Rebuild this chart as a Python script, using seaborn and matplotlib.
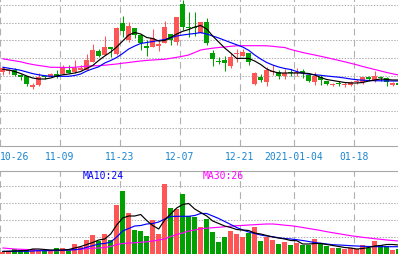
import numpy as np
import pandas as pd
import matplotlib
matplotlib.use("Agg")
import matplotlib.pyplot as plt
import matplotlib.transforms as mtransforms
import seaborn as sns

# ---------------- data ----------------
first_day = "2020-10-26"
last_day = "2021-01-27"
holidays = ["2021-01-01"]

opens = [
    4.270, 4.282, 4.290, 4.230, 4.230, 4.125, 4.140, 4.225, 4.220, 4.247,
    4.250, 4.290, 4.267, 4.290, 4.290, 4.370, 4.480, 4.440, 4.510, 4.450,
    4.760, 4.593, 4.710, 4.643, 4.533, 4.517, 4.533, 4.557, 4.650, 4.567,
    4.950, 4.720, 4.720, 4.657, 4.767, 4.460, 4.380, 4.390, 4.333, 4.447,
    4.433, 4.457, 4.150, 4.223, 4.173, 4.270, 4.267, 4.227, 4.262, 4.257,
    4.283, 4.240, 4.167, 4.223, 4.183, 4.137, 4.152, 4.137, 4.143, 4.170,
    4.167, 4.210, 4.190, 4.212, 4.207, 4.145, 4.150]
highs = [
    4.320, 4.300, 4.310, 4.250, 4.230, 4.160, 4.260, 4.240, 4.260, 4.290,
    4.340, 4.340, 4.387, 4.340, 4.450, 4.550, 4.500, 4.630, 4.523, 4.720,
    4.827, 4.767, 4.710, 4.643, 4.593, 4.700, 4.593, 4.783, 4.650, 4.817,
    4.993, 4.873, 4.867, 4.767, 4.810, 4.493, 4.417, 4.427, 4.460, 4.500,
    4.500, 4.457, 4.273, 4.250, 4.317, 4.343, 4.290, 4.300, 4.300, 4.307,
    4.300, 4.240, 4.267, 4.240, 4.183, 4.160, 4.183, 4.167, 4.183, 4.200,
    4.217, 4.227, 4.283, 4.227, 4.217, 4.173, 4.170]
lows = [
    4.240, 4.250, 4.230, 4.190, 4.130, 4.100, 4.130, 4.200, 4.220, 4.210,
    4.250, 4.260, 4.260, 4.290, 4.290, 4.370, 4.420, 4.440, 4.417, 4.440,
    4.617, 4.570, 4.610, 4.493, 4.433, 4.517, 4.477, 4.557, 4.540, 4.540,
    4.690, 4.617, 4.627, 4.657, 4.540, 4.333, 4.350, 4.283, 4.307, 4.367,
    4.433, 4.340, 4.140, 4.167, 4.133, 4.240, 4.200, 4.200, 4.227, 4.233,
    4.207, 4.167, 4.140, 4.140, 4.140, 4.127, 4.127, 4.117, 4.127, 4.150,
    4.150, 4.183, 4.173, 4.183, 4.133, 4.127, 4.130]
closes = [
    4.310, 4.287, 4.240, 4.225, 4.150, 4.130, 4.220, 4.220, 4.250, 4.220,
    4.310, 4.260, 4.310, 4.310, 4.390, 4.490, 4.430, 4.523, 4.505, 4.710,
    4.677, 4.727, 4.640, 4.560, 4.507, 4.607, 4.550, 4.723, 4.593, 4.817,
    4.723, 4.713, 4.713, 4.767, 4.557, 4.400, 4.373, 4.357, 4.423, 4.452,
    4.473, 4.367, 4.260, 4.190, 4.293, 4.275, 4.227, 4.260, 4.257, 4.262,
    4.260, 4.183, 4.227, 4.190, 4.150, 4.142, 4.147, 4.142, 4.167, 4.175,
    4.217, 4.205, 4.227, 4.207, 4.173, 4.150, 4.145]

ma5 = [
    4.297, 4.290, 4.275, 4.255, 4.230, 4.210, 4.200, 4.200, 4.210, 4.230,
    4.242, 4.250, 4.260, 4.275, 4.305, 4.335, 4.385, 4.430, 4.470, 4.520,
    4.580, 4.640, 4.665, 4.650, 4.615, 4.605, 4.580, 4.585, 4.615, 4.650,
    4.677, 4.695, 4.720, 4.735, 4.700, 4.630, 4.570, 4.510, 4.460, 4.405,
    4.407, 4.405, 4.380, 4.345, 4.300, 4.275, 4.260, 4.260, 4.260, 4.260,
    4.260, 4.255, 4.240, 4.215, 4.195, 4.185, 4.175, 4.165, 4.160, 4.160,
    4.165, 4.180, 4.190, 4.200, 4.195, 4.190, 4.190]
ma10 = [
    4.318, 4.308, 4.298, 4.287, 4.270, 4.254, 4.242, 4.233, 4.227, 4.227,
    4.227, 4.227, 4.235, 4.250, 4.280, 4.302, 4.322, 4.360, 4.385, 4.415,
    4.455, 4.500, 4.530, 4.555, 4.565, 4.575, 4.585, 4.595, 4.613, 4.630,
    4.640, 4.648, 4.655, 4.664, 4.650, 4.630, 4.610, 4.587, 4.564, 4.542,
    4.520, 4.487, 4.440, 4.400, 4.365, 4.340, 4.320, 4.305, 4.295, 4.275,
    4.257, 4.248, 4.243, 4.237, 4.230, 4.224, 4.218, 4.210, 4.200, 4.193,
    4.188, 4.185, 4.183, 4.182, 4.181, 4.180, 4.180]
ma30 = [
    4.402, 4.392, 4.382, 4.372, 4.357, 4.345, 4.335, 4.327, 4.317, 4.317,
    4.315, 4.315, 4.317, 4.323, 4.328, 4.332, 4.333, 4.338, 4.344, 4.350,
    4.358, 4.365, 4.373, 4.380, 4.386, 4.390, 4.394, 4.398, 4.407, 4.417,
    4.428, 4.440, 4.465, 4.490, 4.500, 4.508, 4.515, 4.520, 4.527, 4.532,
    4.533, 4.533, 4.533, 4.533, 4.532, 4.527, 4.520, 4.515, 4.495, 4.480,
    4.465, 4.452, 4.440, 4.427, 4.414, 4.400, 4.386, 4.372, 4.357, 4.342,
    4.325, 4.310, 4.295, 4.280, 4.265, 4.252, 4.240]

volumes = [
    2.3, 2.3, 4.7, 4.0, 4.0, 4.7, 4.0, 2.7, 3.3, 6.0,
    6.0, 4.0, 10.0, 7.3, 14.0, 19.0, 13.5, 20.0, 14.0, 49.0,
    63.3, 41.0, 24.0, 22.7, 18.3, 34.3, 20.0, 70.0, 46.0, 45.0,
    60.0, 37.7, 37.3, 27.0, 35.0, 22.3, 12.3, 17.3, 22.7, 20.0,
    16.7, 21.0, 27.3, 13.3, 17.3, 14.0, 10.5, 11.7, 9.2, 10.7,
    9.5, 9.5, 15.0, 11.0, 8.0, 6.0, 6.0, 5.0, 6.0, 5.0,
    9.0, 6.0, 13.3, 9.0, 8.3, 4.0, 5.0]
vol_ma5 = [
    2.5, 2.7, 3.0, 3.3, 3.5, 5.0, 5.0, 4.5, 4.0, 4.0,
    4.0, 4.5, 6.0, 7.5, 9.5, 11.5, 14.0, 15.0, 20.0, 29.0,
    36.0, 38.0, 38.0, 39.5, 33.5, 28.5, 25.0, 34.0, 40.0, 46.0,
    49.5, 50.5, 45.0, 41.5, 38.0, 33.0, 30.5, 28.0, 26.5, 24.5,
    24.0, 23.5, 21.0, 20.0, 18.5, 17.0, 16.0, 15.0, 13.5, 13.3,
    10.0, 10.0, 10.5, 10.5, 9.5, 8.5, 7.5, 6.5, 6.0, 5.0,
    5.5, 6.5, 8.0, 8.5, 9.5, 9.5, 9.0]
vol_ma10 = [
    2.7, 2.7, 2.7, 2.7, 2.7, 3.0, 3.3, 3.3, 3.5, 3.7,
    3.7, 4.0, 4.3, 5.0, 6.7, 8.3, 10.0, 10.5, 12.0, 17.0,
    23.0, 25.5, 28.0, 28.5, 30.0, 30.5, 32.0, 35.0, 37.5, 37.7,
    37.7, 37.7, 38.5, 40.5, 40.5, 38.0, 35.5, 32.5, 29.5, 26.5,
    24.0, 22.0, 20.5, 19.0, 18.0, 17.3, 16.2, 15.5, 15.0, 14.3,
    13.5, 12.5, 11.5, 10.8, 10.0, 9.3, 9.0, 8.7, 8.3, 8.0,
    7.7, 7.5, 7.4, 7.3, 7.3, 7.3, 7.3]
vol_ma30 = [
    6.0, 5.5, 5.0, 4.7, 4.5, 4.0, 3.7, 3.5, 3.3, 3.3,
    3.5, 4.0, 4.3, 4.7, 5.3, 5.7, 6.0, 6.5, 7.5, 9.5,
    10.5, 11.0, 11.2, 11.7, 12.2, 13.0, 14.0, 15.0, 17.5, 19.5,
    21.0, 23.0, 24.0, 25.3, 25.8, 26.3, 26.7, 27.3, 27.8, 28.3,
    28.6, 29.0, 29.3, 29.7, 30.0, 30.0, 29.5, 28.8, 28.3, 27.5,
    26.5, 25.5, 24.5, 23.5, 22.3, 21.3, 20.3, 19.3, 18.3, 17.5,
    16.7, 16.0, 15.3, 14.7, 14.0, 13.5, 13.0]

tick_dates = ["2020-10-26", "2020-11-09", "2020-11-23", "2020-12-07",
              "2020-12-21", "2021-01-04", "2021-01-18"]
tick_labels = ["10-26", "11-09", "11-23", "12-07", "12-21", "2021-01-04", "01-18"]
legend_texts = ["MA10:24", "MA30:26"]

# ---------------- style ----------------
sns.set_theme(style="white")
plt.rcParams["font.family"] = ["DejaVu Sans Mono", "DejaVu Sans"]

RED = "#ff5555"
GREEN = "#00a000"
GRID = "#b0b0b0"
C_MA5, C_MA10, C_MA30 = "#000000", "#0000ff", "#ff00ff"
DATE_COLOR = "#1a86d0"

W, H, DPI = 398, 255, 100
fig = plt.figure(figsize=(W / DPI, H / DPI), dpi=DPI)
fig.patch.set_facecolor("white")


def fy(px):
    return 1 - px / H


ax_p = fig.add_axes([0, fy(147), 1, 147 / H])
ax_v = fig.add_axes([0, fy(255), 1, 83 / H])

trade_days = pd.bdate_range(first_day, last_day, freq="C", holidays=holidays)
day_index = {d.strftime("%Y-%m-%d"): i for i, d in enumerate(trade_days)}
n = len(opens)
xs = np.arange(n) + 0.45

o = np.array(opens)
c = np.array(closes)
up = c >= o
colors = np.where(up, RED, GREEN)

tick_pos = [day_index[d] for d in tick_dates]

for ax in (ax_p, ax_v):
    ax.set_facecolor("white")
    ax.set_xlim(0, W / 6)
    ax.set_xticks(tick_pos)
    ax.xaxis.grid(True, color=GRID, lw=0.8, ls=(0, (6, 4)))
    ax.yaxis.grid(True, color=GRID, lw=0.75, ls=(0, (1.4, 1.4)))
    ax.set_axisbelow(True)
    ax.tick_params(length=0, labelbottom=False, labelleft=False)
    for s in ax.spines.values():
        s.set_visible(False)

# price panel
ax_p.set_ylim(3.53, 5.0)
ax_p.set_yticks(3.53 + 0.176 * np.arange(1, 9))
ax_p.spines["bottom"].set_visible(True)
ax_p.spines["bottom"].set_color("#a8a8a8")
ax_p.spines["bottom"].set_linewidth(0.8)

ax_p.vlines(xs, lows, highs, colors=colors, lw=0.75, zorder=3)
body_h = np.maximum(np.abs(c - o), 0.011)
ax_p.bar(xs, body_h, bottom=np.minimum(o, c), width=0.8, color=colors,
         linewidth=0, zorder=3)

for vals, col in ((ma30, C_MA30), (ma10, C_MA10), (ma5, C_MA5)):
    sns.lineplot(x=xs, y=vals, ax=ax_p, color=col, lw=0.85, zorder=4,
                 legend=False)
ax_p.set_xlabel("")
ax_p.set_ylabel("")

# volume panel
ax_v.set_ylim(0, 83)
ax_v.set_yticks(16.9 * np.arange(1, 5))
ax_v.spines["top"].set_visible(True)
ax_v.spines["top"].set_color("#a8a8a8")
ax_v.spines["top"].set_linewidth(0.8)
ax_v.bar(xs, volumes, width=0.8, color=colors, linewidth=0, zorder=3)
for vals, col in ((vol_ma30, C_MA30), (vol_ma10, C_MA10), (vol_ma5, C_MA5)):
    sns.lineplot(x=xs, y=vals, ax=ax_v, color=col, lw=0.85, zorder=4,
                 legend=False)
ax_v.set_xlabel("")
ax_v.set_ylabel("")

# date labels
trans = mtransforms.blended_transform_factory(ax_p.transData, fig.transFigure)
for pos, lab in zip(tick_pos, tick_labels):
    ha = "left" if pos == 0 else "center"
    ax_p.text(pos, fy(156.5), lab, transform=trans, ha=ha, va="center",
              fontsize=7, color=DATE_COLOR, clip_on=False)

# MA legend texts in volume panel
fig.text(83 / W, fy(176.5), legend_texts[0], color=C_MA10, fontsize=7,
         ha="left", va="center")
fig.text(203 / W, fy(176.5), legend_texts[1], color=C_MA30, fontsize=7,
         ha="left", va="center")

fig.savefig("out.png", dpi=DPI, facecolor="white")
